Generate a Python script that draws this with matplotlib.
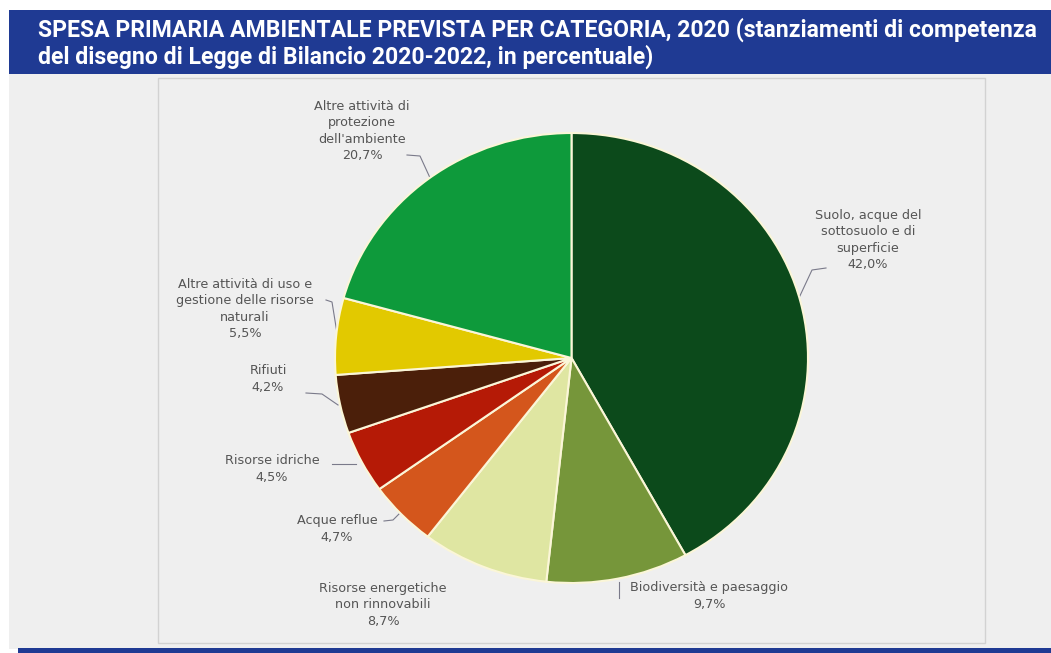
import matplotlib
matplotlib.use("Agg")
import matplotlib.pyplot as plt
from matplotlib.patches import Rectangle

W, H = 1051, 653
title = ("SPESA PRIMARIA AMBIENTALE PREVISTA PER CATEGORIA, 2020 (stanziamenti di competenza\n"
         "del disegno di Legge di Bilancio 2020-2022, in percentuale)")

categories = [
    "Suolo, acque del\nsottosuolo e di\nsuperficie",
    "Biodiversità e paesaggio",
    "Risorse energetiche\nnon rinnovabili",
    "Acque reflue",
    "Risorse idriche",
    "Rifiuti",
    "Altre attività di uso e\ngestione delle risorse\nnaturali",
    "Altre attività di\nprotezione\ndell'ambiente",
]
values = [42.0, 9.7, 8.7, 4.7, 4.5, 4.2, 5.5, 20.7]
colors = ["#0c4a1b", "#76963a", "#dfe6a2", "#d4561c", "#b51a06",
          "#4b1f0a", "#e2c900", "#0e9a3b"]

# label anchor positions (pixel coords) and leader lines
label_pos = [(868, 240), (709, 596), (383, 605), (337, 529),
             (272, 469), (268, 379), (245, 309), (362, 131)]
leaders = [
    [(826, 268), (812, 270), (798, 300)],
    [(619, 582), (619, 598)],
    None,
    [(384, 521), (393, 520), (399, 514)],
    [(332, 464), (356, 464)],
    [(306, 393), (322, 394), (338, 405)],
    [(326, 300), (332, 302), (337, 333)],
    [(407, 155), (420, 156), (431, 180)],
]

fig = plt.figure(figsize=(W / 100, H / 100), dpi=100)
fig.patch.set_facecolor("white")

bg = fig.add_axes([0, 0, 1, 1])
bg.set_xlim(0, W)
bg.set_ylim(H, 0)
bg.axis("off")

# gray background
bg.add_patch(Rectangle((9, 74), W - 9, 575, facecolor="#efefef", edgecolor="none", zorder=0))
# blue title bar
bg.add_patch(Rectangle((9, 10), W - 9, 64, facecolor="#1f3a93", edgecolor="none", zorder=1))
# bottom blue bar
bg.add_patch(Rectangle((18, 648), W - 18, 6, facecolor="#1f3a93", edgecolor="none", zorder=1))
# plot frame
bg.add_patch(Rectangle((158, 78), 827, 565, facecolor="none", edgecolor="#d2d2d2", lw=1, zorder=1))

bg.text(38, 43, title, color="white", fontsize=16.6, fontweight="bold",
        family="Roboto", va="center", ha="left", linespacing=1.12, zorder=2)

for (x, y), lab, v in zip(label_pos, categories, values):
    txt = lab + "\n" + f"{v:.1f}%".replace(".", ",")
    bg.text(x, y, txt, ha="center", va="center", fontsize=9.2, color="#555555",
            linespacing=1.35, family="DejaVu Sans", zorder=3)
for ln in leaders:
    if ln:
        xs, ys = zip(*ln)
        bg.plot(xs, ys, color="#7a7a8a", lw=0.8, zorder=3)

# pie
cx, cy, rx, ry = 571.5, 358, 236.5, 225
pax = fig.add_axes([(cx - rx) / W, (H - cy - ry) / H, 2 * rx / W, 2 * ry / H])
pax.pie(values, colors=colors, startangle=90, counterclock=False,
        wedgeprops=dict(edgecolor="#fbf6d8", linewidth=1.5))
pax.set_aspect("auto")
pax.set_xlim(-1, 1)
pax.set_ylim(-1, 1)
pax.axis("off")

fig.savefig("out.png", dpi=100, facecolor=fig.get_facecolor())
